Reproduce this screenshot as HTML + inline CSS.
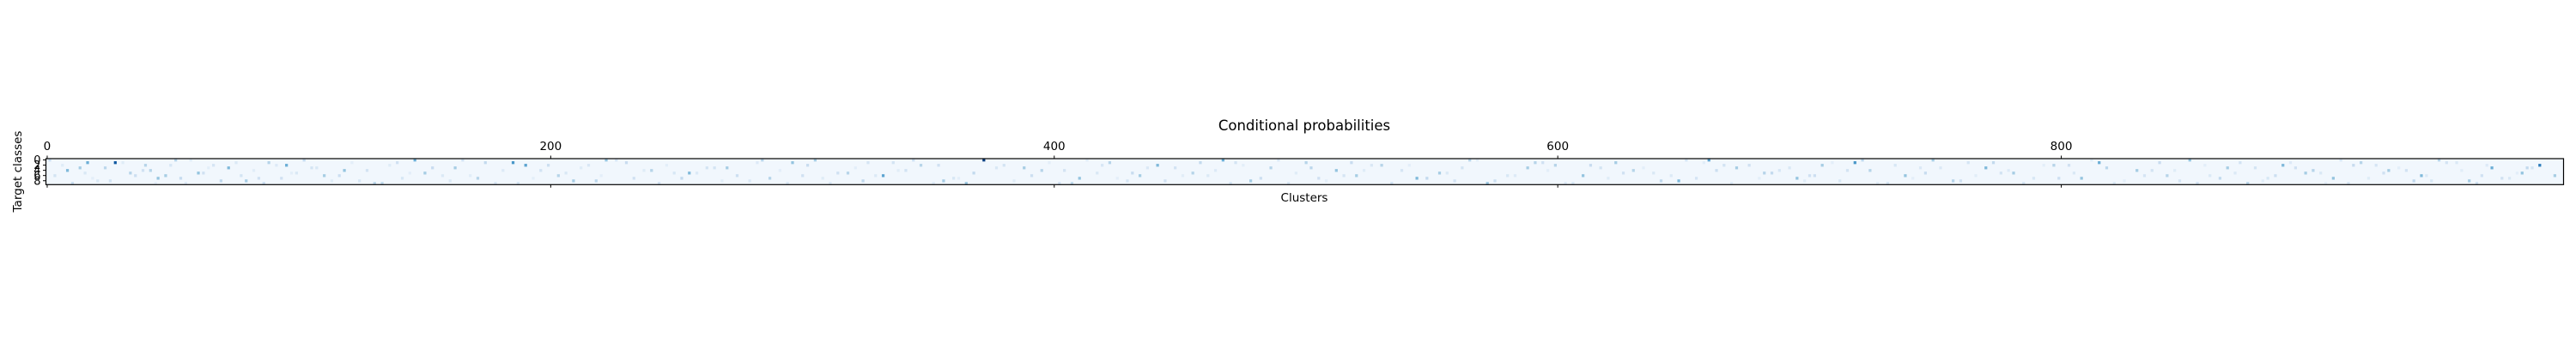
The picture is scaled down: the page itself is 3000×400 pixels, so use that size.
<!DOCTYPE html>
<html><head><meta charset="utf-8">
<style>
html,body{margin:0;padding:0;background:#fff;overflow:hidden;}
svg{display:block;font-family:"DejaVu Sans","Liberation Sans",sans-serif;}
</style></head>
<body>
<svg id="chart" width="3000" height="400" viewBox="0 0 3000 400" xmlns="http://www.w3.org/2000/svg">
<rect width="3000" height="400" fill="#fff"/>
<text x="1519" y="152" font-size="16.5" text-anchor="middle" fill="#000">Conditional probabilities</text>
<text x="1519" y="235" font-size="13.5" text-anchor="middle" fill="#000">Clusters</text>
<text transform="translate(25,200) rotate(-90)" font-size="13.5" text-anchor="middle" fill="#000">Target classes</text>
<g id="cells"></g>
<g id="axes"></g>
</svg>
<script>
const nCols = 1000;
const nRows = 10;
const baseValue = 0.03;
const xTicks = [0, 200, 400, 600, 800];
const yTicks = [0, 2, 4, 6, 8];
// notable cells: [column, row, probability]
const cellCols = [8,13,16,27,33,39,44,47,51,60,72,79,88,95,110,118,130,146,150,162,171,185,190,203,209,222,240,255,270,287,296,305,318,332,347,356,365,372,388,395,410,422,434,441,455,467,478,486,500,512,520,530,544,553,565,572,588,599,610,623,630,648,660,671,682,695,705,718,724,738,749,757,770,781,797,808,815,830,842,851,866,874,888,897,908,919,930,943,950,962,971,983,990,996];
const cellRows = [4,3,1,1,5,2,7,6,0,5,3,8,1,2,6,4,9,0,5,3,7,1,2,6,8,0,4,5,3,7,1,0,5,6,2,8,9,0,3,4,7,1,6,2,5,0,8,3,1,4,6,2,7,5,0,9,3,2,6,1,4,8,0,3,5,7,2,1,4,6,0,8,3,5,2,7,1,4,6,0,3,9,2,5,7,1,4,6,0,8,3,5,2,6];
const cellVals = [0.45,0.35,0.5,0.85,0.3,0.3,0.4,0.35,0.3,0.4,0.45,0.35,0.3,0.5,0.35,0.4,0.3,0.5,0.35,0.35,0.3,0.6,0.55,0.3,0.35,0.4,0.3,0.45,0.35,0.3,0.4,0.35,0.3,0.55,0.3,0.35,0.4,0.95,0.35,0.3,0.4,0.3,0.35,0.45,0.3,0.5,0.35,0.3,0.3,0.4,0.35,0.3,0.45,0.35,0.3,0.4,0.35,0.3,0.4,0.35,0.3,0.45,0.55,0.35,0.3,0.4,0.35,0.6,0.3,0.4,0.35,0.3,0.45,0.35,0.3,0.4,0.5,0.35,0.3,0.4,0.35,0.3,0.45,0.35,0.4,0.3,0.35,0.45,0.3,0.35,0.5,0.4,0.7,0.35];
const faintCols = [3,20,38,55,66,84,99,105,124,139,157,178,196,215,233,249,262,279,300,311,326,341,360,380,402,417,429,448,461,472,493,505,526,538,559,580,594,603,617,638,655,666,688,700,712,731,744,763,776,789,803,821,836,847,859,871,882,893,903,914,925,937,947,957,967,978,987,
 1,6,10,15,18,23,25,30,35,41,43,49,53,57,62,64,69,75,77,82,86,91,93,97,102,107,113,116,121,127,133,136,141,144,153,160,165,168,174,181,187,193,199,206,212,218,220,226,230,237,243,246,252,258,265,268,274,282,284,291,294,302,308,314,321,324,329,336,338,344,352,354,362,368,377,384,391,398,404,407,413,419,425,431,437,444,451,458,464,470,475,482,489,496,502,508,515,518,523,534,541,548,556,562,568,575,583,591,596,606,613,620,626,634,641,645,651,658,663,669,676,680,685,692,698,702,709,715,721,727,734,741,746,752,760,766,773,779,785,793,799,805,812,818,825,833,839,845,854,857,863,869,877,880,885,891,900,905,911,916,922,928,934,940,945,953,959,965,969,975,981,985,993,998];
const faintRows = [6,8,4,9,2,7,5,3,8,1,6,9,4,2,7,5,3,8,6,9,1,4,7,2,9,5,8,3,6,1,9,7,2,4,8,6,1,9,3,5,7,2,4,6,8,9,3,1,5,7,2,9,4,8,6,1,7,3,5,9,2,4,8,1,6,7,3,
 0,2,9,5,7,3,8,1,6,4,9,2,7,0,5,3,8,1,6,4,9,2,7,5,0,3,8,6,1,4,9,2,7,5,3,8,0,6,1,4,9,7,2,5,3,8,6,0,1,4,9,2,7,5,3,8,6,1,0,4,9,2,7,5,3,8,6,1,4,0,9,2,7,5,3,8,6,1,4,9,0,2,7,5,3,8,6,1,4,9,2,7,0,5,3,8,6,1,4,9,2,7,5,3,0,8,6,1,4,9,2,7,5,3,8,6,0,1,4,9,2,7,5,3,8,6,1,4,0,9,2,7,5,3,8,6,1,4,9,2,7,5,0,3,8,6,1,4,9,2,7,5,3,8,6,1,4,9,0,2,7,5,3,8,6,1,4,9,2,7,5,3];
const faintVals = [0.18,0.15,0.2,0.14,0.17,0.2,0.15,0.18,0.16,0.2,0.14,0.17,0.19,0.15,0.2,0.16,0.18,0.14,0.2,0.15,0.17,0.19,0.16,0.18,0.2,0.15,0.17,0.19,0.14,0.18,0.16,0.2,0.15,0.17,0.19,0.16,0.2,0.14,0.18,0.15,0.17,0.19,0.16,0.2,0.15,0.18,0.14,0.17,0.19,0.16,0.2,0.15,0.18,0.17,0.14,0.19,0.16,0.2,0.15,0.18,0.17,0.19,0.16,0.14,0.2,0.15,0.18,
 0.22,0.12,0.25,0.15,0.1,0.28,0.18,0.12,0.22,0.3,0.1,0.16,0.25,0.12,0.2,0.1,0.27,0.14,0.18,0.11,0.24,0.13,0.2,0.1,0.26,0.15,0.12,0.22,0.1,0.18,0.28,0.12,0.16,0.1,0.24,0.14,0.2,0.11,0.26,0.13,0.18,0.1,0.22,0.15,0.12,0.28,0.1,0.17,0.24,0.12,0.2,0.1,0.26,0.14,0.18,0.11,0.22,0.13,0.3,0.1,0.16,0.24,0.12,0.2,0.1,0.27,0.14,0.18,0.11,0.22,0.13,0.2,0.1,0.26,0.15,0.12,0.22,0.1,0.18,0.28,0.12,0.16,0.1,0.24,0.14,0.2,0.11,0.26,0.13,0.18,0.1,0.22,0.15,0.12,0.28,0.1,0.17,0.24,0.12,0.2,0.1,0.26,0.14,0.18,0.11,0.22,0.13,0.3,0.1,0.16,0.24,0.12,0.2,0.1,0.27,0.14,0.18,0.11,0.22,0.13,0.2,0.1,0.26,0.15,0.12,0.22,0.1,0.18,0.28,0.12,0.16,0.1,0.24,0.14,0.2,0.11,0.26,0.13,0.18,0.1,0.22,0.15,0.12,0.28,0.1,0.17,0.24,0.12,0.2,0.1,0.26,0.14,0.18,0.11,0.22,0.13,0.3,0.1,0.16,0.24,0.12,0.2,0.1,0.27,0.14,0.18,0.11,0.22,0.13,0.2,0.1,0.26,0.15,0.12,0.22,0.1,0.18,0.28,0.12,0.16,0.1,0.24,0.14,0.2,0.11,0.26,0.13];

const axL = 53.5, axR = 2985.5, axT = 185, axB = 215.3;
const cw = (axR - axL) / nCols, ch = (axB - axT) / nRows;
const xPos = c => axL + c * cw;
const yPos = r => axT + r * ch;
const stops = [[0,[247,251,255]],[0.125,[222,235,247]],[0.25,[198,219,239]],[0.375,[158,202,225]],[0.5,[107,174,214]],[0.625,[66,146,198]],[0.75,[33,113,181]],[0.875,[8,81,156]],[1,[8,48,107]]];
function blues(v){v=Math.max(0,Math.min(1,v));for(let i=1;i<stops.length;i++){if(v<=stops[i][0]){const a=stops[i-1],b=stops[i];const t=(v-a[0])/(b[0]-a[0]);return 'rgb('+a[1].map((x,k)=>Math.round(x+(b[1][k]-x)*t)).join(',')+')';}}return 'rgb(8,48,107)';}
const NS = 'http://www.w3.org/2000/svg';
const cells = document.getElementById('cells');
const bg = document.createElementNS(NS,'rect');
bg.setAttribute('x',axL);bg.setAttribute('y',axT);bg.setAttribute('width',axR-axL);bg.setAttribute('height',axB-axT);bg.setAttribute('fill',blues(baseValue));


cells.appendChild(bg);
function addCell(c,r,v){
  if (c === undefined || r === undefined || v === undefined) return;
  if (c < 0 || c >= nCols || r < 0 || r >= nRows) return;
  const e=document.createElementNS(NS,'rect');
  e.setAttribute('x',xPos(c));e.setAttribute('y',yPos(r));e.setAttribute('width',cw+0.3);e.setAttribute('height',ch+0.3);e.setAttribute('fill',blues(v));
  
  
  cells.appendChild(e);
}
faintCols.forEach((c,i)=>addCell(c,faintRows[i],faintVals[i]));
cellCols.forEach((c,i)=>addCell(c,cellRows[i],cellVals[i]));

const axes = document.getElementById('axes');
function line(x1,y1,x2,y2,name){const l=document.createElementNS(NS,'line');l.setAttribute('x1',x1);l.setAttribute('y1',y1);l.setAttribute('x2',x2);l.setAttribute('y2',y2);l.setAttribute('stroke','#000');l.setAttribute('stroke-width','1');
  
  
  axes.appendChild(l);}
function text(x,y,s,anchor,name,size){const t=document.createElementNS(NS,'text');t.setAttribute('x',x);t.setAttribute('y',y);t.setAttribute('text-anchor',anchor);t.setAttribute('font-size',size||13.5);t.textContent=s;
  
  
  axes.appendChild(t);}
const frame=document.createElementNS(NS,'rect');
frame.setAttribute('x',axL);frame.setAttribute('y',axT);frame.setAttribute('width',axR-axL);frame.setAttribute('height',axB-axT);frame.setAttribute('fill','none');frame.setAttribute('stroke','#000');frame.setAttribute('stroke-width','1.2');


axes.appendChild(frame);
xTicks.forEach(v=>{const x=xPos(v)+cw/2;line(x,axT,x,axT-3.5,'x-tick-top');line(x,axB,x,axB+3.5,'x-tick-bottom');text(x,175,String(v),'middle','x-tick-label');});
yTicks.forEach(v=>{const y=yPos(v)+ch/2;line(axL,y,axL-3.5,y,'y-tick');text(axL-6,y+4.5,String(v),'end','y-tick-label',13);});
</script>
</body></html>
